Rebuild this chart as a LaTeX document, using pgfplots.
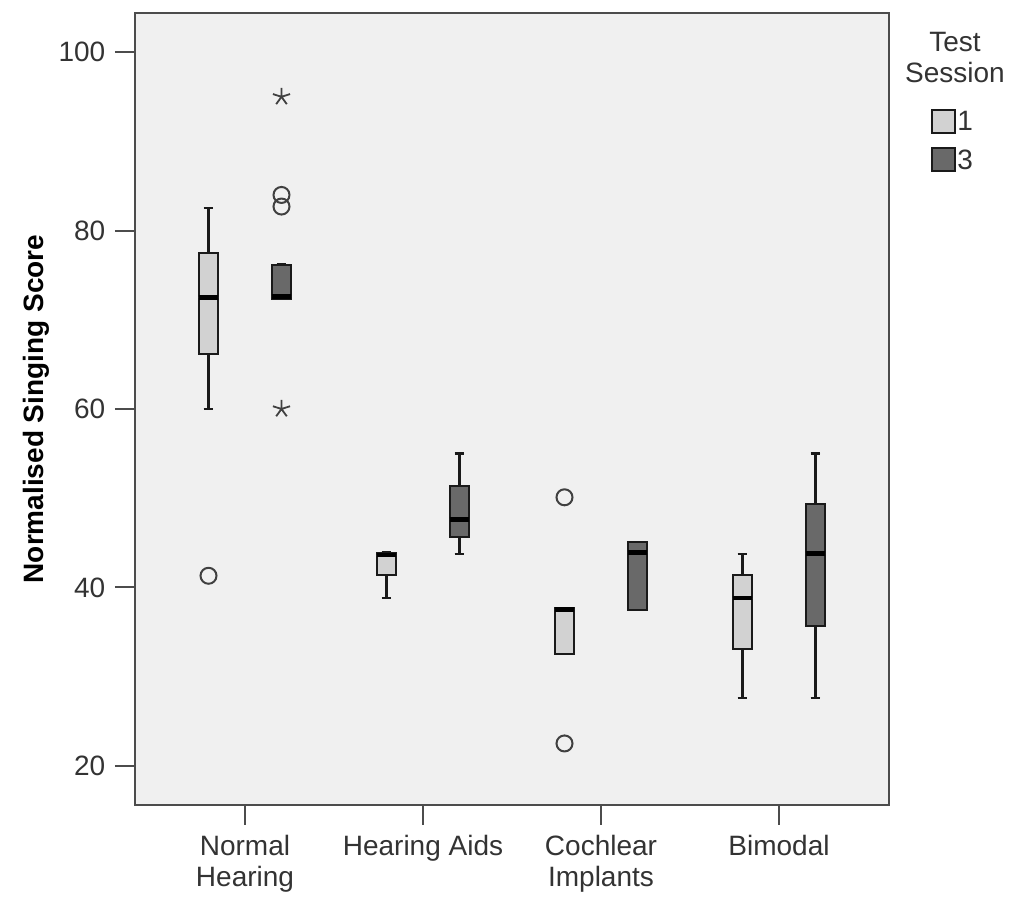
\documentclass[border=0pt]{standalone}
\usepackage{fontspec}
\setmainfont{Liberation Sans}
\usepackage{pgfplots}
\pgfplotsset{compat=1.18}
\usepgfplotslibrary{statistics}
\definecolor{bg}{HTML}{F0F0F0}
\definecolor{sone}{HTML}{D2D2D2}
\definecolor{sthree}{HTML}{696969}
\definecolor{edge}{HTML}{1A1A1A}
\definecolor{txt}{HTML}{333333}
\begin{document}
\fontsize{14}{16}\selectfont
\begin{tikzpicture}
\useasboundingbox (-67.5pt,-46.5pt) rectangle (442pt,402.5pt);
\begin{axis}[
  at={(0,0)}, anchor=south west,
  width=377pt, height=396pt, scale only axis,
  xmin=-0.618, xmax=3.618, ymin=15.6, ymax=104.4,
  axis background/.style={fill=bg},
  axis line style={draw=black!70, line width=1pt},
  xtick={0,1,2,3},
  xticklabels={{Normal\\Hearing},{Hearing Aids},{Cochlear\\Implants},{Bimodal}},
  xticklabel style={align=center, text=txt, font=\fontsize{14}{15.5}\selectfont},
  yticklabel style={text=txt, font=\fontsize{14}{16}\selectfont},
  ytick={20,40,60,80,100},
  tick align=outside, tick pos=left,
  major tick length=10pt,
  tick style={draw=black!70, line width=1pt},
  /pgf/number format/assume math mode=true,
  ylabel={Normalised Singing Score},
  ylabel shift=-5pt,
  ylabel style={font=\bfseries\fontsize{14}{16}\selectfont},
  boxplot/draw direction=y,
  boxplot/every median/.style={draw=black, line width=2.2pt},
  boxplot/every box/.style={draw=edge, line width=1pt},
  boxplot/every whisker/.style={draw=edge, line width=1.1pt},
]
% Normal Hearing
\addplot[boxplot prepared={draw position=-0.205, lower whisker=60.0, lower quartile=66.2, median=72.5, upper quartile=77.5, upper whisker=82.5, box extend=0.112, whisker extend=0.055}, fill=sone, draw=edge, mark=o, mark size=4pt, mark options={draw=black!75, line width=1pt}] coordinates {(0,41.3)};
\addplot[boxplot prepared={draw position=0.205, lower whisker=72.3, lower quartile=72.3, median=72.6, upper quartile=76.2, upper whisker=76.2, box extend=0.112, whisker extend=0.055}, fill=sthree, draw=edge, mark=o, mark size=4pt, mark options={draw=black!75, line width=1pt}] coordinates {(0,84.0) (0,82.7)};
\addplot[only marks, mark=star, mark size=4.5pt, draw=black!75, line width=0.9pt] coordinates {(0.205,95.0) (0.205,60.0)};
% Hearing Aids
\addplot[boxplot prepared={draw position=0.795, lower whisker=38.8, lower quartile=41.4, median=43.6, upper quartile=43.9, upper whisker=43.9, box extend=0.112, whisker extend=0.055}, fill=sone, draw=edge] coordinates {};
\addplot[boxplot prepared={draw position=1.205, lower whisker=43.75, lower quartile=45.7, median=47.6, upper quartile=51.4, upper whisker=55.0, box extend=0.112, whisker extend=0.055}, fill=sthree, draw=edge] coordinates {};
% Cochlear Implants
\addplot[boxplot prepared={draw position=1.795, lower whisker=32.5, lower quartile=32.5, median=37.5, upper quartile=37.7, upper whisker=37.7, box extend=0.112, whisker extend=0.055}, fill=sone, draw=edge, mark=o, mark size=4pt, mark options={draw=black!75, line width=1pt}] coordinates {(0,50.1) (0,22.5)};
\addplot[boxplot prepared={draw position=2.205, lower whisker=37.5, lower quartile=37.5, median=43.9, upper quartile=45.1, upper whisker=45.1, box extend=0.112, whisker extend=0.055}, fill=sthree, draw=edge] coordinates {};
% Bimodal
\addplot[boxplot prepared={draw position=2.795, lower whisker=27.6, lower quartile=33.1, median=38.8, upper quartile=41.4, upper whisker=43.75, box extend=0.112, whisker extend=0.055}, fill=sone, draw=edge] coordinates {};
\addplot[boxplot prepared={draw position=3.205, lower whisker=27.6, lower quartile=35.7, median=43.8, upper quartile=49.4, upper whisker=55.0, box extend=0.112, whisker extend=0.055}, fill=sthree, draw=edge] coordinates {};
\end{axis}
% legend
\node[align=center, text=txt, font=\fontsize{14}{15.5}\selectfont] at (410pt,373.75pt) {Test\\Session};
\draw[edge, line width=0.9pt, fill=sone] (398.5pt,336pt) rectangle (410pt,347.5pt);
\draw[edge, line width=0.9pt, fill=sthree] (398.5pt,317pt) rectangle (410pt,328.5pt);
\node[anchor=west, inner sep=0pt, text=txt] at (411pt,342pt) {1};
\node[anchor=west, inner sep=0pt, text=txt] at (411pt,322.75pt) {3};
\end{tikzpicture}
\end{document}
